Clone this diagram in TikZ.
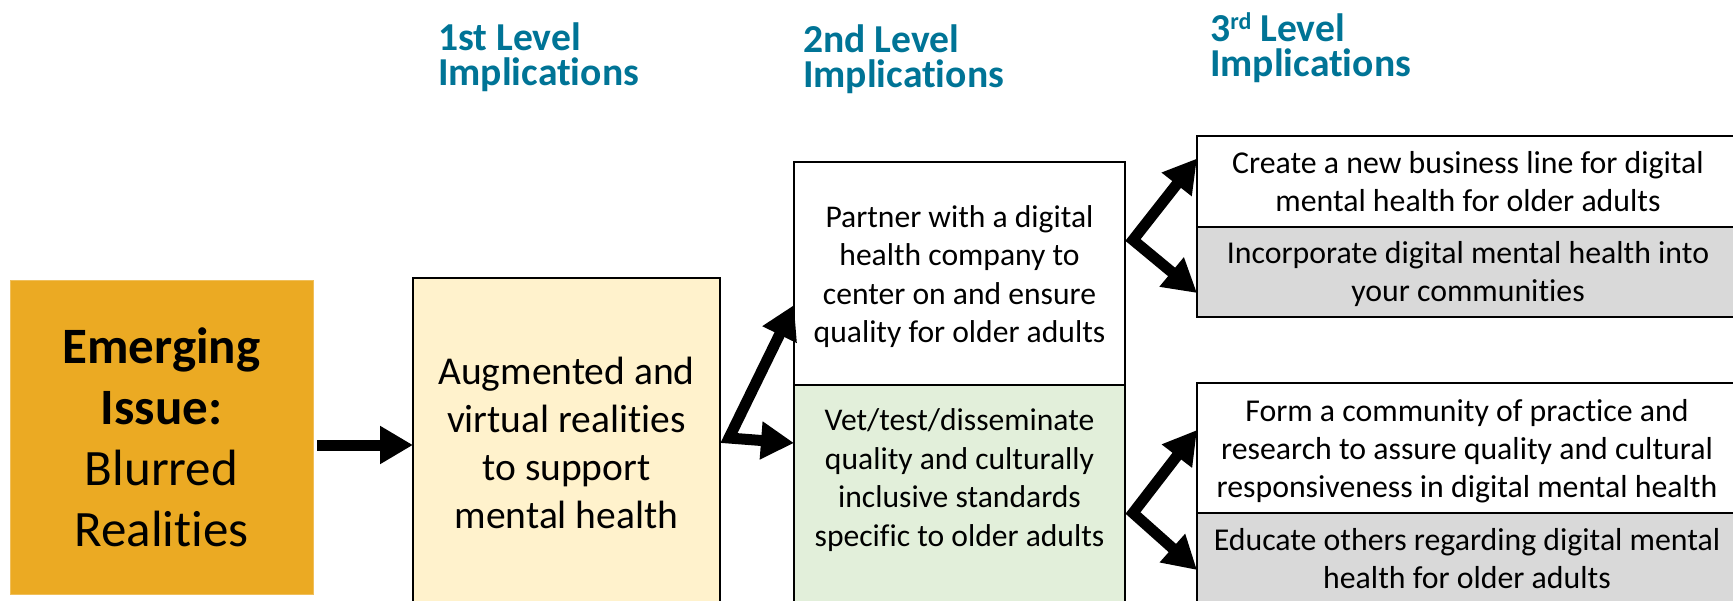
\documentclass[tikz,border=0pt]{standalone}
\usepackage{fontspec}
\setmainfont{Carlito}[Ligatures={NoCommon}]
\usepackage{xcolor}
\usepackage{tikz}
\usetikzlibrary{arrows.meta, positioning}

\definecolor{issueorange}{RGB}{235,170,35}
\definecolor{levelblue}{RGB}{0,116,150}
\definecolor{yellowfill}{RGB}{255,242,204}
\definecolor{greenfill}{RGB}{226,239,218}
\definecolor{greyfill}{RGB}{217,217,217}

\begin{document}
\begin{tikzpicture}[
        x=1pt, y=-1pt,
        box/.style={rectangle, draw, line width=1.8pt, inner sep=0pt, outer sep=0pt, align=center},
        heading/.style={anchor=north west, inner sep=0pt, align=left, text=levelblue, font=\fontsize{39.6}{34.7}\selectfont\bfseries},
        boxtext/.style={inner sep=0pt, align=center, font=\fontsize{31.8}{38}\selectfont},
        arrow/.style={->, >={Triangle[length=33pt, width=36pt]}, line width=11pt},
        fork/.style={<->, >={Triangle[length=33pt, width=36pt]}, line width=11pt}
    ]
    \clip (0,0) rectangle (1733,600);

    % Headings
    \node[heading] (level1) at (438,22.5) {1st Level\\Implications};
    \node[heading] (level2) at (803,25) {2nd Level\\Implications};
    \node[heading] (level3) at (1210,14) {3\smash{\raisebox{12.4pt}{\fontsize{24}{24}\selectfont rd}} Level\\Implications};

    % Emerging issue
    \node[box, draw=issueorange!75!white, line width=1pt, fill=issueorange, minimum width=303, minimum height=314, font=\fontsize{51}{61}\selectfont] (issue) at (161.5,437) {\textbf{Emerging}\\\textbf{Issue:}\\Blurred\\Realities};

    % 1st level
    \node[box, fill=yellowfill, minimum width=307, minimum height=329, font=\fontsize{39.5}{48}\selectfont] (augmented) at (566.5,442.5) {Augmented and\\virtual realities\\to support\\mental health};

    % 2nd level
    \node[box, fill=white, minimum width=331, minimum height=223] (partner) at (959.5,273.5) {};
    \node[boxtext, font=\fontsize{31.6}{38.6}\selectfont] (partnertext) at ([yshift=-3pt]partner.center) {Partner with a digital\\health company to\\center on and ensure\\quality for older adults};
    \node[box, fill=greenfill, minimum width=331, minimum height=235] (vet) at (959.5,502.5) {};
    \node[boxtext, font=\fontsize{31.6}{38.6}\selectfont] (vettext) at ([yshift=-95pt]vet.north) {Vet/test/disseminate\\quality and culturally\\inclusive standards\\specific to older adults};

    % 3rd level
    \node[box, fill=white, minimum width=548, minimum height=91] (create) at (1471,181.5) {};
    \node[box, fill=greyfill, minimum width=548, minimum height=90] (incorporate) at (1471,272) {};
    \node[box, fill=white, minimum width=548, minimum height=130] (form) at (1471,448) {};
    \node[box, fill=greyfill, minimum width=548, minimum height=90] (educate) at (1471,558) {};
    \node[boxtext] (createtext) at ([xshift=-3pt]create.center) {Create a new business line for digital\\mental health for older adults};
    \node[boxtext] (incorporatetext) at ([xshift=-3pt, yshift=-2pt]incorporate.center) {Incorporate digital mental health into\\your communities};
    \node[boxtext] (formtext) at ([xshift=-4pt, yshift=-3pt]form.center) {Form a community of practice and\\research to assure quality and cultural\\responsiveness in digital mental health};
    \node[boxtext] (educatetext) at ([xshift=-4pt, yshift=-1pt]educate.center) {Educate others regarding digital mental\\health for older adults};

    % Arrows
    \coordinate (issueout) at (317,445);
    \coordinate (augfork) at (729,438);
    \coordinate (partnerfork) at (1133,240);
    \coordinate (vetfork) at (1133,513);
    \draw[arrow] (issueout) -- (issueout -| augmented.west);
    \draw[fork] ([yshift=-31.5pt]partner.west) -- (augfork) -- ([yshift=-58pt]vet.north west);
    \draw[fork] ([yshift=23pt]create.west) -- (partnerfork) -- ([yshift=-21pt]incorporate.west);
    \draw[fork] ([yshift=18pt]form.west) -- (vetfork) -- ([yshift=-12pt]educate.west);

\end{tikzpicture}
\end{document}
